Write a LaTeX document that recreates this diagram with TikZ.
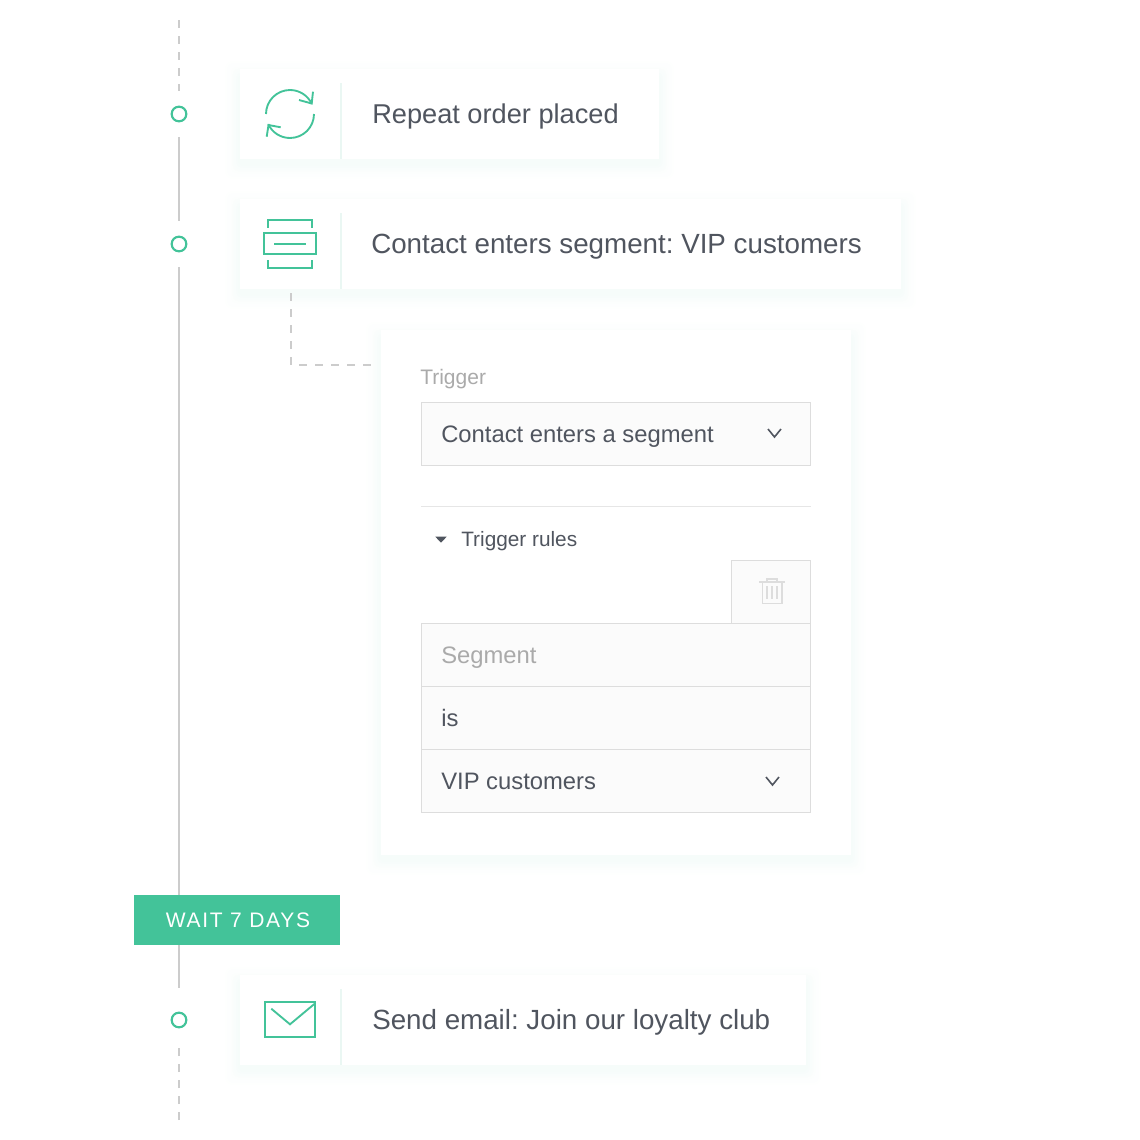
\documentclass[tikz,border=0pt]{standalone}
\usepackage{fontspec}
\setmainfont{Liberation Sans}
\newfontfamily\spacedfont[LetterSpace=8]{Liberation Sans}
\usetikzlibrary{calc}
\pgfdeclarelayer{bg}
\pgfsetlayers{bg,main}
\definecolor{brand}{HTML}{43C399}
\definecolor{divider}{HTML}{EAF7F3}
\definecolor{rail}{HTML}{CCCCCC}
\definecolor{ink}{HTML}{50555F}
\definecolor{muted}{HTML}{AAAAAA}
\definecolor{edge}{HTML}{DDDDDD}
\definecolor{hairline}{HTML}{E6E6E6}
\definecolor{field}{HTML}{FBFBFB}
\newcommand{\pxs}[1]{\fontsize{\the\dimexpr #1pt*3/4\relax}{\the\dimexpr #1pt*3/4\relax}\selectfont\frenchspacing}
\newcommand{\softshadow}[1]{%
  \begin{pgfonlayer}{bg}
  \foreach \i in {10,9,...,1}{
    \pgfmathsetmacro{\shademix}{0.05*(11-\i)*(11-\i)}
    \fill[brand!\shademix!white,rounded corners=5pt]
      ($(#1.north west)+(-\i*1.8,-\i*1.8+7)$) rectangle ($(#1.south east)+(\i*1.8,\i*1.8+5)$);
  }
  \end{pgfonlayer}}
\tikzset{
  x=0.75pt,y=-0.75pt,
  boxed/.style 2 args={rectangle,inner sep=0pt,outer sep=0pt,anchor=north west,minimum width=#1*0.75pt,minimum height=#2*0.75pt},
  card/.style 2 args={boxed={#1}{#2},fill=white},
  fieldbox/.style 2 args={boxed={#1}{#2},fill=field,draw=edge,line width=0.75pt},
  dot/.style={circle,draw=brand,line width=1.6pt,fill=white,minimum size=11pt,inner sep=0pt},
  rail line/.style={draw=rail,line width=1.6pt},
  rail dash/.style={draw=rail,line width=1.6pt,dash pattern=on 6pt off 6pt},
  icon/.style={draw=brand,line width=1.4pt},
  sep/.style={draw=divider,line width=1.3pt},
  cardtext/.style={anchor=base west,inner sep=0pt,text=ink,font=\pxs{27.75}},
  fieldtext/.style={anchor=base west,inner sep=0pt,text=ink,font=\pxs{23.8}},
  mutedtext/.style={anchor=base west,inner sep=0pt,text=muted,font=\pxs{23.8}},
  chev/.style={draw=ink,line width=1.2pt},
  trash/.style={draw=edge,line width=1.2pt},
}
\begin{document}
\begin{tikzpicture}
\useasboundingbox (0,0) rectangle (1140,1140);
\begin{pgfonlayer}{bg}
\fill[white] (0,0) rectangle (1140,1140);
\end{pgfonlayer}

% cards
\node[card={419}{90}] (c1) at (240,69) {};
\node[card={661}{90}] (c2) at (240,199) {};
\node[card={470}{525}] (panel) at (381,330) {};
\node[card={566}{90}] (c3) at (240,975) {};
\softshadow{c1}\softshadow{c2}\softshadow{panel}\softshadow{c3}

% timeline
\coordinate (top) at (179,20);
\coordinate (bot) at (179,1120);
\node[dot] (d1) at (179,114) {};
\node[dot] (d2) at (179,244) {};
\node[dot] (d3) at (179,1020) {};
\node[boxed={206}{50},fill=brand] (wait) at (134,895) {};
\node[anchor=base,inner sep=0pt,text=white,font=\spacedfont\pxs{21}] (waitlabel) at (238,927) {WAIT 7 DAYS};
\draw[rail dash,shorten >=11pt] (top) -- (d1);
\draw[rail line,shorten <=11pt,shorten >=11pt] (d1) -- (d2);
\draw[rail line,shorten <=11pt] (d2) -- (d2 |- wait.north);
\draw[rail line,shorten >=18pt] (d3 |- wait.south) -- (d3);
\draw[rail dash,shorten >=14.5pt] (bot) -- (d3);

% dividers
\draw[sep] (341,83) -- (341,159);
\draw[sep] (341,213) -- (341,289);
\draw[sep] (341,989) -- (341,1065);

% card 1
\draw[icon] (266,114) arc[start angle=180,end angle=25,radius=24*0.75pt];
\draw[icon] (313,91.7) -- (311.7,103.5) -- (299,100);
\draw[icon] (314,114) arc[start angle=0,end angle=-155,radius=24*0.75pt];
\draw[icon] (266.7,136.7) -- (268.5,125) -- (280.7,127.3);
\node[cardtext,font=\pxs{27.2}] (t1) at (372,123.5) {Repeat order placed};

% card 2
\draw[icon] (263.7,233.3) rectangle (316.3,254.3);
\draw[icon] (274,243.7) -- (305.7,243.7);
\draw[icon] (268.3,227.7) -- (268.3,220) -- (311.7,220) -- (311.7,227.7);
\draw[icon] (268.3,260) -- (268.3,268) -- (311.7,268) -- (311.7,260);
\node[cardtext] (t2) at (371,253.5) {Contact enters segment: VIP customers};

% card 3
\draw[icon] (264.7,1002.3) rectangle (315.3,1037.3);
\draw[icon] (271.3,1008.7) -- (290,1024.3) -- (314.3,1004);
\node[cardtext] (t3) at (372,1029.5) {Send email: Join our loyalty club};

% dashed link from card 2 to panel
\coordinate (linkstart) at (291,293);
\coordinate (linkend) at (373,365);
\draw[rail dash,line width=1.5pt] (linkstart) |- (linkend);

% panel contents
\node[mutedtext,font=\pxs{21}] (lbl) at (420,384) {Trigger};
\node[fieldbox={389}{63}] (sel) at (421.5,402.5) {};
\node[fieldtext] (seltext) at (441,442) {Contact enters a segment};
\draw[chev] (768,429) -- (774.5,437) -- (781,429);
\draw[draw=hairline,line width=0.75pt] (421,506.5) -- (811,506.5);
\fill[ink] (435.3,536.7) -- (446.7,536.7) -- (441,542.7) -- cycle;
\node[fieldtext,font=\pxs{20.8}] (rules) at (461,546) {Trigger rules};
\node[fieldbox={79}{63}] (del) at (731.5,560.5) {};
\node[fieldbox={389}{63}] (r1) at (421.5,623.5) {};
\node[fieldbox={389}{63}] (r2) at (421.5,686.5) {};
\node[fieldbox={389}{63}] (r3) at (421.5,749.5) {};
\node[mutedtext] (r1t) at (441,663) {Segment};
\node[fieldtext] (r2t) at (441,726) {is};
\node[fieldtext] (r3t) at (441,789) {VIP customers};
\draw[chev] (766,777) -- (772.5,785) -- (779,777);

% trash icon
\draw[trash] (759.3,581.7) -- (784.7,581.7);
\draw[trash] (767,581.7) -- (767,578.7) -- (777,578.7) -- (777,581.7);
\draw[trash] (762.3,581.7) -- (762.3,603.3) -- (781.7,603.3) -- (781.7,581.7);
\draw[trash] (767,586) -- (767,599.3);
\draw[trash] (772,586) -- (772,599.3);
\draw[trash] (777,586) -- (777,599.3);
\end{tikzpicture}
\end{document}
